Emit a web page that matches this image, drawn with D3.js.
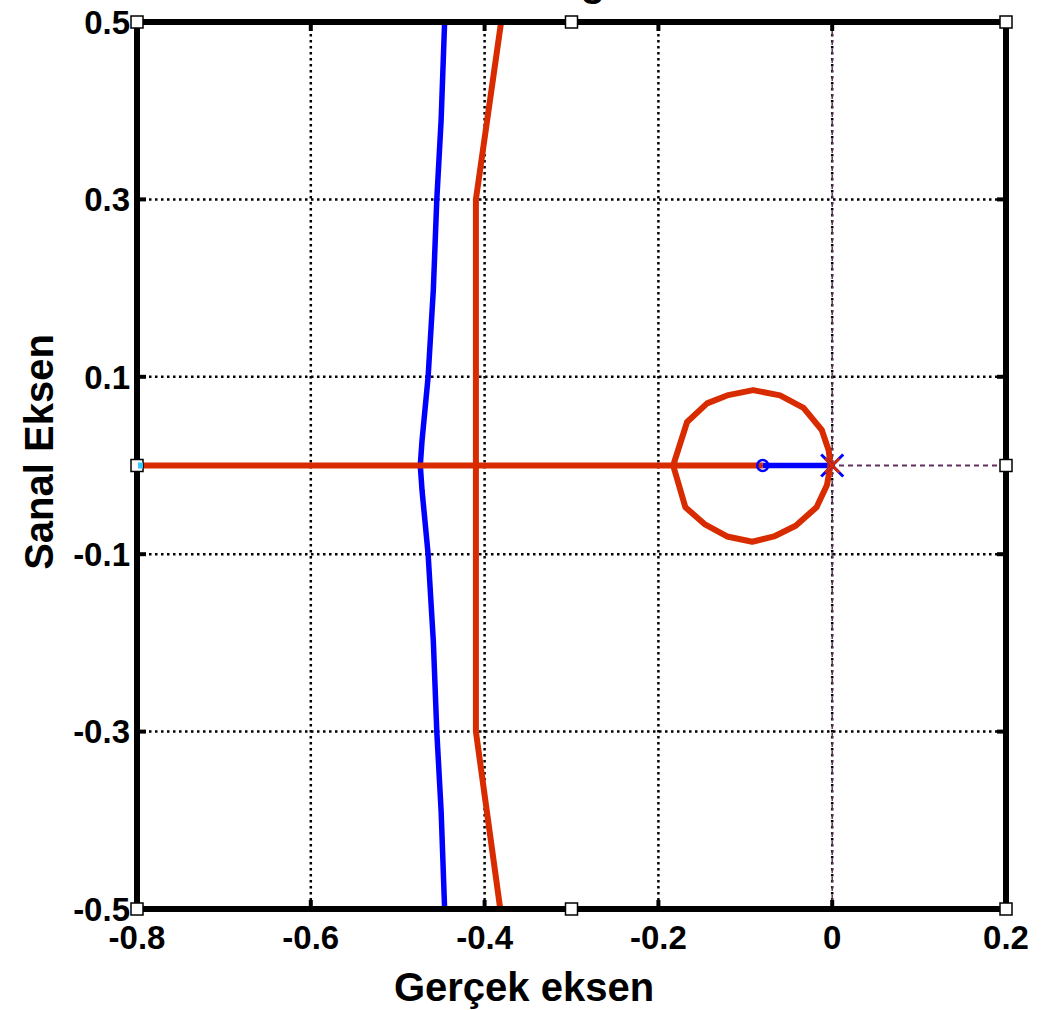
<!DOCTYPE html>
<html><head><meta charset="utf-8">
<script src="https://cdn.jsdelivr.net/npm/d3@7"></script>
<style>body{margin:0;background:#fff}svg{display:block}text{font-family:"Liberation Sans",Arial,sans-serif;font-weight:bold}</style>
</head><body>
<svg id="c" width="1049" height="1010"></svg>
<script>
const xTicks = [-0.8, -0.6, -0.4, -0.2, 0, 0.2];
const yTicks = [0.5, 0.3, 0.1, -0.1, -0.3, -0.5];
const xGrid = [-0.6, -0.4, -0.2];
const yGrid = [0.3, 0.1, -0.1, -0.3];
const redAxisBranch = [[-0.8, 0], [-0.08, 0]];
const redCircleUpper = [[-0.183,0],[-0.167,0.049],[-0.144,0.070],[-0.121,0.079],[-0.091,0.085],[-0.060,0.079],[-0.033,0.065],[-0.012,0.040],[-0.004,0.017],[-0.002,0]];
const redCircleLower = [[-0.183,0],[-0.169,-0.047],[-0.147,-0.066],[-0.121,-0.080],[-0.092,-0.086],[-0.067,-0.080],[-0.042,-0.068],[-0.018,-0.047],[-0.006,-0.022],[-0.002,0]];
const redUpper = [[-0.41, 0], [-0.41, 0.3], [-0.381, 0.5]];
const redLower = [[-0.41, 0], [-0.41, -0.3], [-0.382, -0.5]];
const blueUpper = [[-0.474,0],[-0.472,0.028],[-0.465,0.1],[-0.459,0.198],[-0.455,0.3],[-0.450,0.39],[-0.446,0.5]];
const blueLower = [[-0.474,0],[-0.472,-0.028],[-0.465,-0.1],[-0.459,-0.198],[-0.455,-0.3],[-0.450,-0.39],[-0.446,-0.5]];
const blueAxis = [[-0.08, 0], [0, 0]];
const zeros = [[-0.08, 0]];
const poles = [[0, 0]];
const boxMarkers = [[-0.8,0.5],[-0.3,0.5],[0.2,0.5],[-0.8,0],[0.2,0],[-0.8,-0.5],[-0.3,-0.5],[0.2,-0.5]];

const svg = d3.select("#c");
const x = d3.scaleLinear().domain([-0.8, 0.2]).range([137, 1006]);
const y = d3.scaleLinear().domain([-0.5, 0.5]).range([909, 22]);
const X0 = x(-0.8), X1 = x(0.2), Y0 = y(0.5), Y1 = y(-0.5);
const fmt = d => String(d);

svg.append("defs").append("clipPath").attr("id","clip")
  .append("rect").attr("x",X0).attr("y",Y0).attr("width",X1-X0).attr("height",Y1-Y0);

// title (cut off at top, as in the reference)
svg.append("text").attr("x", 530).attr("y", -4).attr("text-anchor","middle")
  .attr("font-size", 40).text("Kök Yer Eğrisi");

// grid
svg.selectAll(".gx").data(xGrid).join("line")
  .attr("x1", d=>x(d)).attr("x2", d=>x(d)).attr("y1", Y0).attr("y2", Y1)
  .attr("stroke","#000").attr("stroke-width",2.5).attr("stroke-dasharray","2.5,3.5");
svg.selectAll(".gy").data(yGrid).join("line")
  .attr("y1", d=>y(d)).attr("y2", d=>y(d)).attr("x1", X0).attr("x2", X1)
  .attr("stroke","#000").attr("stroke-width",2.5).attr("stroke-dasharray","2.5,3.5");
svg.append("line").attr("x1",x(0)).attr("x2",x(0)).attr("y1",Y0).attr("y2",Y1)
  .attr("stroke","#000").attr("stroke-width",2.5).attr("stroke-dasharray","2.5,3.5");
svg.append("line").attr("x1",x(0)).attr("x2",x(0)).attr("y1",Y0).attr("y2",Y1)
  .attr("stroke","#603060").attr("stroke-width",1.5).attr("stroke-dasharray","5,4");
svg.append("line").attr("x1",X0).attr("x2",X1).attr("y1",y(0)).attr("y2",y(0))
  .attr("stroke","#603060").attr("stroke-width",1.8).attr("stroke-dasharray","5,4");

const line = d3.line().x(d=>x(d[0])).y(d=>y(d[1]));
const g = svg.append("g").attr("clip-path","url(#clip)");
const red = "#d92b00", blue = "#0000ff";
[blueUpper, blueLower, blueAxis].forEach(p=>g.append("path").attr("d", line(p))
  .attr("fill","none").attr("stroke",blue).attr("stroke-width",5.5));
[redAxisBranch, redCircleUpper, redCircleLower, redUpper, redLower].forEach(p=>g.append("path").attr("d", line(p))
  .attr("fill","none").attr("stroke",red).attr("stroke-width",6).attr("stroke-linejoin","round"));

svg.selectAll(".z").data(zeros).join("circle")
  .attr("cx", d=>x(d[0])).attr("cy", d=>y(d[1])).attr("r",5.5)
  .attr("fill","none").attr("stroke",blue).attr("stroke-width",2.5);
poles.forEach(p=>{
  const cx = x(p[0]), cy = y(p[1]);
  [[11,blue,3],[7,red,2.5]].forEach(([s,c,w])=>{
    svg.append("line").attr("x1",cx-s).attr("y1",cy-s).attr("x2",cx+s).attr("y2",cy+s).attr("stroke",c).attr("stroke-width",w);
    svg.append("line").attr("x1",cx-s).attr("y1",cy+s).attr("x2",cx+s).attr("y2",cy-s).attr("stroke",c).attr("stroke-width",w);
  });
});

svg.append("rect").attr("x",X0).attr("y",Y0).attr("width",X1-X0).attr("height",Y1-Y0)
  .attr("fill","none").attr("stroke","#000").attr("stroke-width",6);
xTicks.slice(1,-1).forEach(t=>{
  svg.append("line").attr("x1",x(t)).attr("x2",x(t)).attr("y1",Y0).attr("y2",Y0+9).attr("stroke","#000").attr("stroke-width",4);
  svg.append("line").attr("x1",x(t)).attr("x2",x(t)).attr("y1",Y1).attr("y2",Y1-9).attr("stroke","#000").attr("stroke-width",4);
});
yTicks.slice(1,-1).forEach(t=>{
  svg.append("line").attr("y1",y(t)).attr("y2",y(t)).attr("x1",X0).attr("x2",X0+9).attr("stroke","#000").attr("stroke-width",4);
  svg.append("line").attr("y1",y(t)).attr("y2",y(t)).attr("x1",X1).attr("x2",X1-9).attr("stroke","#000").attr("stroke-width",4);
});
svg.selectAll(".bm").data(boxMarkers).join("rect")
  .attr("x", d=>x(d[0])-6).attr("y", d=>y(d[1])-6).attr("width",12).attr("height",12)
  .attr("fill","#fff").attr("stroke","#000").attr("stroke-width",1.5);
svg.append("rect").attr("x", x(-0.8)+1).attr("y", y(0)-3).attr("width",5).attr("height",6).attr("fill","#33ccff");

svg.selectAll(".xl").data(xTicks).join("text")
  .attr("x", d=>x(d)).attr("y", 949).attr("text-anchor","middle").attr("font-size",33)
  .text(fmt);
svg.selectAll(".yl").data(yTicks).join("text")
  .attr("x", 130).attr("y", d=>y(d)).attr("dy","0.36em").attr("text-anchor","end").attr("font-size",33)
  .text(fmt);

svg.append("text").attr("x", 524).attr("y", 1001).attr("text-anchor","middle").attr("font-size",40).text("Gerçek eksen");
svg.append("text").attr("transform","translate(53,452) rotate(-90)").attr("text-anchor","middle").attr("font-size",40).text("Sanal Eksen");
</script>
</body></html>
